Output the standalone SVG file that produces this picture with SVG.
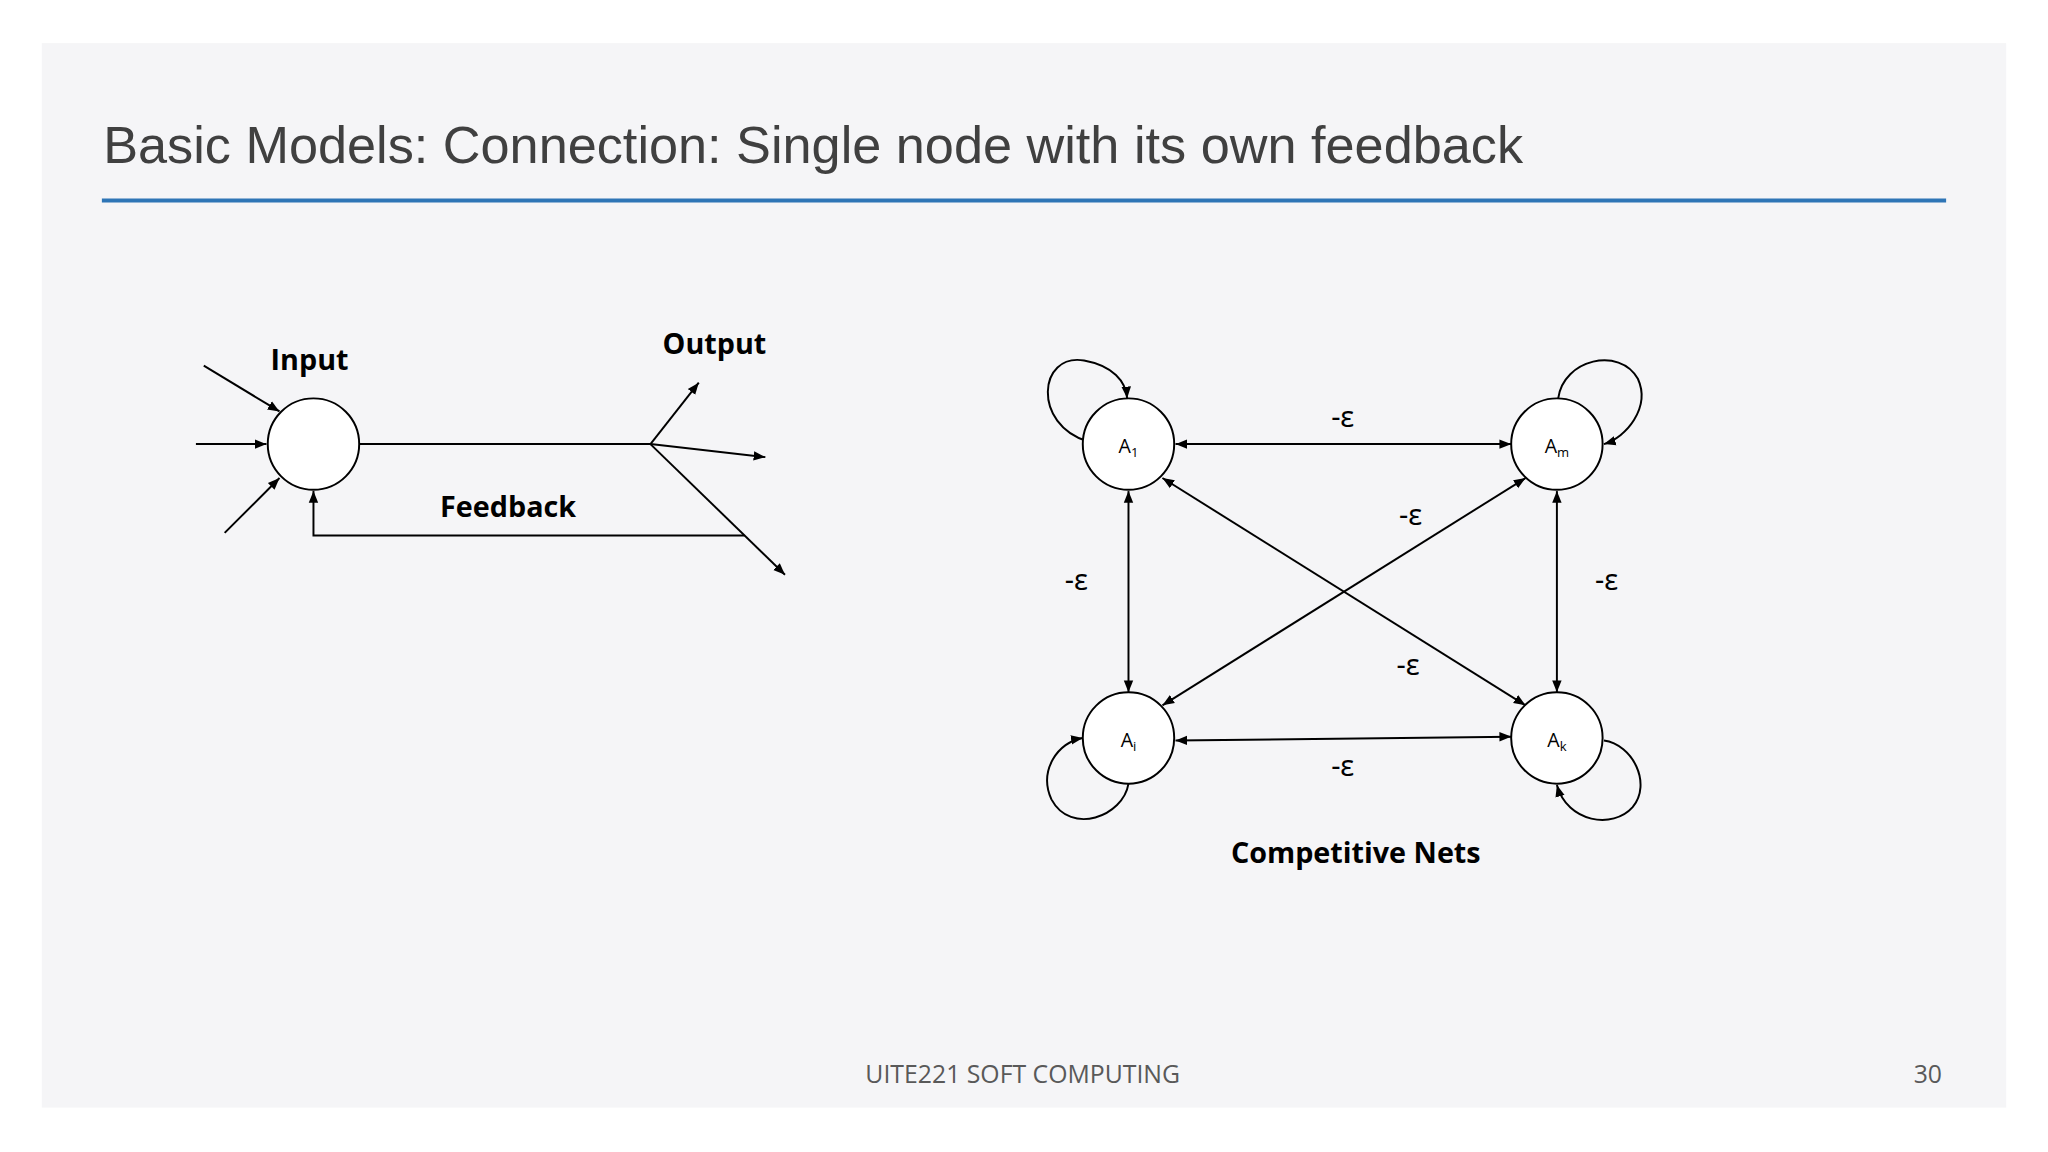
<svg xmlns="http://www.w3.org/2000/svg" width="2048" height="1152" viewBox="0 0 2048 1152">
<defs>
<marker id="ah" viewBox="0 0 10 10" refX="10" refY="5" markerWidth="9" markerHeight="9" markerUnits="userSpaceOnUse" orient="auto-start-reverse"><path d="M0,1 L10,5 L0,9 z" fill="#000"/></marker>
<style>
.ln{stroke:#000;stroke-width:1.5;fill:none}
.nd{fill:#fff;stroke:#000;stroke-width:1.5}
.lb{font-family:"Open Sans","Noto Sans",sans-serif;font-weight:bold;font-size:22px;text-anchor:middle}
.nl{font-family:"Open Sans","Noto Sans",sans-serif;font-size:15px;text-anchor:middle}
.ep{font-family:"Noto Sans","DejaVu Sans",sans-serif;font-size:22px;text-anchor:middle}
</style>
</defs>
<rect width="2048" height="1152" fill="#fff"/>
<g transform="scale(1.30612)">
<rect x="32" y="33" width="1504" height="815" fill="#f5f5f7"/>
<text x="79" y="125" font-family="Liberation Sans,Arial,sans-serif" font-size="40" fill="#404040">Basic Models: Connection: Single node with its own feedback</text>
<line x1="78" y1="153.5" x2="1490" y2="153.5" stroke="#2e75b6" stroke-width="3"/>
<g id="connectors">
<line class="ln" x1="156" y1="280" x2="214" y2="315" marker-end="url(#ah)"/>
<line class="ln" x1="150" y1="340" x2="204" y2="340" marker-end="url(#ah)"/>
<line class="ln" x1="172" y1="408" x2="214" y2="366" marker-end="url(#ah)"/>
<line class="ln" x1="275" y1="340" x2="498" y2="340" stroke-width="1"/>
<line class="ln" x1="498" y1="340" x2="535" y2="293" marker-end="url(#ah)"/>
<line class="ln" x1="498" y1="340" x2="586" y2="350" marker-end="url(#ah)"/>
<line class="ln" x1="498" y1="340" x2="601" y2="440" marker-end="url(#ah)"/>
<polyline class="ln" points="570,410 240,410 240,376" marker-end="url(#ah)"/>
<line class="ln" x1="900" y1="340" x2="1157" y2="340" marker-start="url(#ah)" marker-end="url(#ah)"/>
<line class="ln" x1="900" y1="567" x2="1157" y2="564" marker-start="url(#ah)" marker-end="url(#ah)"/>
<line class="ln" x1="864" y1="376" x2="864" y2="530" marker-start="url(#ah)" marker-end="url(#ah)"/>
<line class="ln" x1="1192" y1="376" x2="1192" y2="530" marker-start="url(#ah)" marker-end="url(#ah)"/>
<line class="ln" x1="890" y1="366" x2="1168" y2="540" marker-start="url(#ah)" marker-end="url(#ah)"/>
<line class="ln" x1="1168" y1="366" x2="890" y2="540" marker-start="url(#ah)" marker-end="url(#ah)"/>
<path class="ln" d="M833,338 C790,325 795,270 830,276 C852,280 862,292 863,305" marker-end="url(#ah)"/>
<path class="ln" d="M1193,305 C1197,275 1240,265 1254,290 C1264,312 1245,335 1228,340" marker-end="url(#ah)"/>
<path class="ln" d="M864,600 C860,625 820,640 805,612 C795,590 810,568 829,565" marker-end="url(#ah)"/>
<path class="ln" d="M1228,567 C1250,570 1265,600 1250,618 C1235,635 1200,630 1192,601" marker-end="url(#ah)"/>
</g>
<g id="node-single"><circle class="nd" cx="240" cy="340" r="35"/></g>
<g id="node-A1"><circle class="nd" cx="864" cy="340" r="35"/><text class="nl" x="864" y="347">A<tspan font-size="10" dy="3">1</tspan></text></g>
<g id="node-Am"><circle class="nd" cx="1192" cy="340" r="35"/><text class="nl" x="1192" y="347">A<tspan font-size="10" dy="3">m</tspan></text></g>
<g id="node-Ai"><circle class="nd" cx="864" cy="565" r="35"/><text class="nl" x="864" y="572">A<tspan font-size="10" dy="3">i</tspan></text></g>
<g id="node-Ak"><circle class="nd" cx="1192" cy="565" r="35"/><text class="nl" x="1192" y="572">A<tspan font-size="10" dy="3">k</tspan></text></g>
<g id="labels">
<text class="lb" x="237" y="283">Input</text>
<text class="lb" x="547" y="271">Output</text>
<text class="lb" x="389" y="396">Feedback</text>
<text class="ep" x="1028" y="327">-ɛ</text>
<text class="ep" x="1080" y="402">-ɛ</text>
<text class="ep" x="824" y="452">-ɛ</text>
<text class="ep" x="1230" y="452">-ɛ</text>
<text class="ep" x="1078" y="517">-ɛ</text>
<text class="ep" x="1028" y="594">-ɛ</text>
<text class="lb" x="1038" y="661" font-size="25">Competitive Nets</text>
</g>
<text x="783" y="829" font-family="Open Sans,Noto Sans,sans-serif" font-size="19" fill="#595959" text-anchor="middle">UITE221 SOFT COMPUTING</text>
<text x="1476" y="829" font-family="Open Sans,Noto Sans,sans-serif" font-size="19" fill="#595959" text-anchor="middle">30</text>
</g>
</svg>
